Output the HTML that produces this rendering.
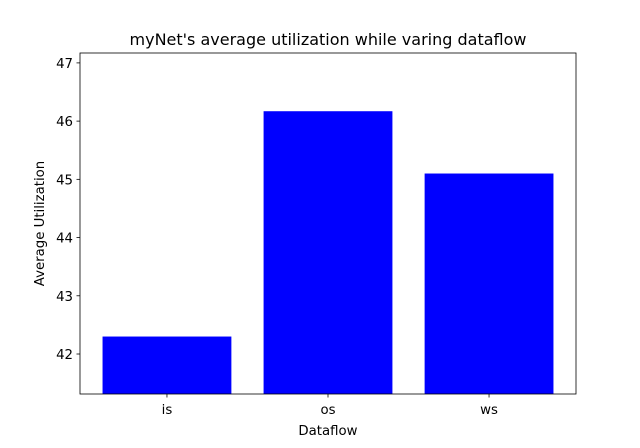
<!DOCTYPE html>
<html><head><meta charset="utf-8"><style>
body{margin:0;background:#fff;}
svg text{font-family:"DejaVu Sans","Liberation Sans",sans-serif;fill:#000;}
</style></head><body>
<svg id="chart" width="640" height="443" xmlns="http://www.w3.org/2000/svg"></svg>
<script>
const categories = ["is", "os", "ws"];
const values = [42.30, 46.17, 45.10];
const yTicks = [42, 43, 44, 45, 46, 47];
const yMin = 41.313, yMax = 47.17;

const L = 80, R = 576, T = 53, B = 394;
const svg = document.getElementById('chart');
const NS = "http://www.w3.org/2000/svg";
function yS(v){ return B - (v - yMin) / (yMax - yMin) * (B - T); }
const xMin = -0.54, xMax = xMin + 3.08;
function xS(i){ return L + (i - xMin) / (xMax - xMin) * (R - L); }
function mk(tag, attrs, text){
  const e = document.createElementNS(NS, tag);
  for (const k in attrs) e.setAttribute(k, attrs[k]);
  if (text !== undefined) e.textContent = text;
  svg.appendChild(e);
  return e;
}
const bw = 0.8 * (xS(1) - xS(0));
categories.forEach((c, i) => {
  const cx = xS(i);
  const r = mk('rect', {x: cx - bw/2, y: yS(values[i]), width: bw, height: B - yS(values[i]), fill: '#0000ff'});
  
  
  const tk = mk('line', {x1: cx, x2: cx, y1: B, y2: B + 3.5, stroke: '#000', 'stroke-width': 0.8});
  
  
  const t = mk('text', {x: cx, y: B + 20, 'text-anchor': 'middle', 'font-size': 13.3}, c);
  
  
});
yTicks.forEach(v => {
  const y = yS(v);
  const tk = mk('line', {x1: L - 3.5, x2: L, y1: y, y2: y, stroke: '#000', 'stroke-width': 0.8});
  
  
  const t = mk('text', {x: L - 7, y: y + 5, 'text-anchor': 'end', 'font-size': 13.3}, String(v));
  
  
});
const fr = mk('rect', {x: L, y: T, width: R - L, height: B - T, fill: 'none', stroke: '#000', 'stroke-width': 0.8});


const ti = mk('text', {x: (L + R)/2, y: T - 8, 'text-anchor': 'middle', 'font-size': 16}, "myNet's average utilization while varing dataflow");


const xl = mk('text', {x: (L + R)/2, y: 435, 'text-anchor': 'middle', 'font-size': 13.3}, "Dataflow");


const yl = mk('text', {x: 0, y: 0, 'text-anchor': 'middle', 'font-size': 13.3, transform: 'translate(44,' + ((T + B)/2) + ') rotate(-90)'}, "Average Utilization");


</script>
</body></html>
